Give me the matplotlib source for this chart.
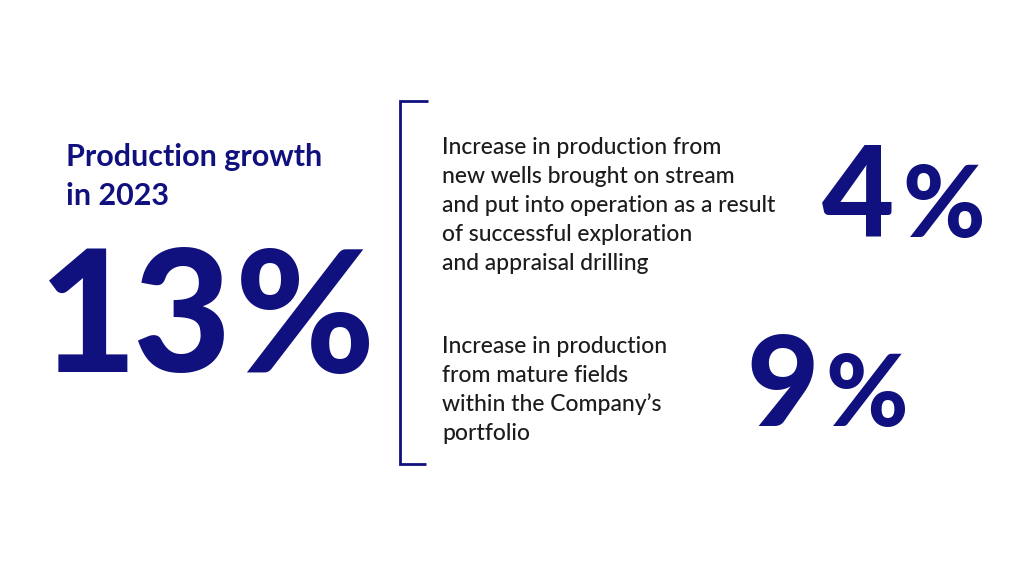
import matplotlib.pyplot as plt

# Data
heading_lines = ["Production growth", "in 2023"]
total_growth = 13
component_values = [4, 9]
component_labels = [
    ["Increase in production from",
     "new wells brought on stream",
     "and put into operation as a result",
     "of successful exploration",
     "and appraisal drilling"],
    ["Increase in production",
     "from mature fields",
     "within the Company\u2019s",
     "portfolio"],
]

navy = "#10107f"
ink = "#1c1c1c"
font = ["Lato", "DejaVu Sans"]

fig = plt.figure(figsize=(10.24, 5.87), dpi=100)
fig.patch.set_facecolor("white")
ax = fig.add_axes([0, 0, 1, 1])
ax.set_xlim(0, 1024)
ax.set_ylim(587, 0)
ax.axis("off")

# heading
for i, line in enumerate(heading_lines):
    ax.text(66, 166 + i * 39, line, color=navy, fontsize=22, fontweight="bold",
            family=font, ha="left", va="baseline")

# big total number, one glyph at a time to keep the tight spacing
big = str(total_growth) + "%"
big_centers = [88, 181, 305]
for ch, cx in zip(big, big_centers):
    ax.text(cx, 372, ch, color=navy, fontsize=122, fontweight="black",
            family=font, ha="center", va="baseline")

# bracket
ax.plot([428, 400, 400, 426], [101, 101, 464, 464], color=navy, lw=2,
        solid_capstyle="butt", solid_joinstyle="miter")

# component descriptions
block_top = [154, 353]
for lines, y0 in zip(component_labels, block_top):
    for i, line in enumerate(lines):
        ax.text(442, y0 + i * 29, line, color=ink, fontsize=16.5, fontweight="medium",
                family=font, ha="left", va="baseline")

# component values
num_pos = [(858, 237), (783, 426)]
pct_pos = [(944, 237), (867, 426)]
for v, (nx, ny), (px, py) in zip(component_values, num_pos, pct_pos):
    ax.text(nx, ny, str(v), color=navy, fontsize=90, fontweight="black",
            family=font, ha="center", va="baseline")
    ax.text(px, py, "%", color=navy, fontsize=72, fontweight="black",
            family=font, ha="center", va="baseline")

fig.savefig("out.png", dpi=100, facecolor="white")
